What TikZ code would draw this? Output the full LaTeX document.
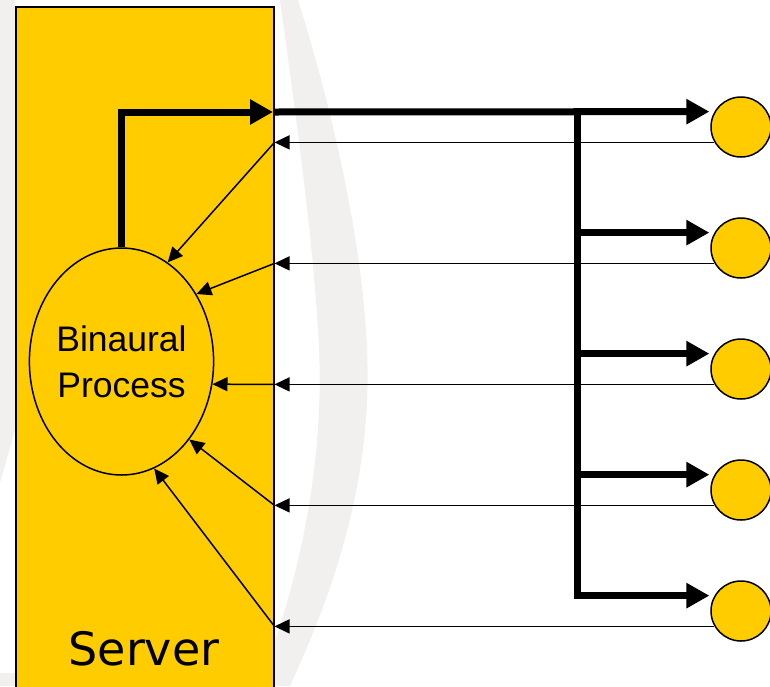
\documentclass[tikz,border=0pt]{standalone}
\usepackage{fontspec}
\setmainfont{Liberation Sans}
\newfontfamily\labelfont{DejaVu Sans}
\usetikzlibrary{arrows.meta,shapes.geometric}
\definecolor{gold}{HTML}{FFCC00}
\definecolor{emblemgray}{HTML}{F1F0EE}
\begin{document}
\begin{tikzpicture}[x=1pt,y=-1pt,
  feed/.style={line width=7pt,-{Triangle[length=23pt,width=24pt]}},
  ret/.style={line width=1.5pt,-{Triangle[length=15pt,width=14pt]}},
  client/.style={circle,draw,line width=1.5pt,fill=gold,minimum size=60pt,inner sep=0pt},
]
\useasboundingbox (0,0) rectangle (770,686);
% faint background emblem
\fill[emblemgray] (280,0) -- (298,0) .. controls (345,150) and (372,300) .. (367,400)
  .. controls (362,520) and (320,620) .. (290,686) -- (272,686) -- (272,650)
  .. controls (310,540) and (325,430) .. (318,330)
  .. controls (312,230) and (295,110) .. (280,0) -- cycle;
\fill[emblemgray] (0,0) -- (15,0) -- (15,430) -- (0,483) -- cycle;
\fill[emblemgray] (0,673) rectangle (15,686);

% server block
\node[draw,line width=1.5pt,fill=gold,minimum width=258pt,minimum height=700pt,
      inner sep=0pt,anchor=north west] (server) at (15,6) {};
\node[font=\labelfont\fontsize{46}{50}\selectfont,anchor=base] (lbl) at (144,665) {Server};

% binaural process
\node[ellipse,draw,line width=1.5pt,fill=gold,minimum width=181pt,minimum height=227pt,
      inner sep=0pt,align=center,font=\fontsize{35.5}{46}\selectfont] (bp) at (121.5,361.5)
      {Binaural\\Process};

% clients
\foreach \k/\y in {1/127,2/248,3/369,4/490,5/611}
  \node[client] (c\k) at (741,\y) {};

% outgoing stream
\coordinate (out) at (273,112);
\coordinate (j0) at (577,112);
\draw[feed] (bp.north) |- (out);
\draw[feed,shorten >=5pt] (out) -- (c1.150);
\draw[feed,shorten >=5pt] (j0) |- (c5.150);
\foreach \k in {2,3,4}
  \draw[feed,shorten >=5pt] (j0 |- c\k.150) -- (c\k.150);

% return streams
\foreach \k/\a in {1/65,2/42,3/-14,4/-49,5/-73}{
  \coordinate (in\k) at (c\k.210 -| server.east);
  \draw[ret] (c\k.210) -- (in\k);
  \draw[ret] (in\k) -- (bp.\a);
}
\end{tikzpicture}
\end{document}
